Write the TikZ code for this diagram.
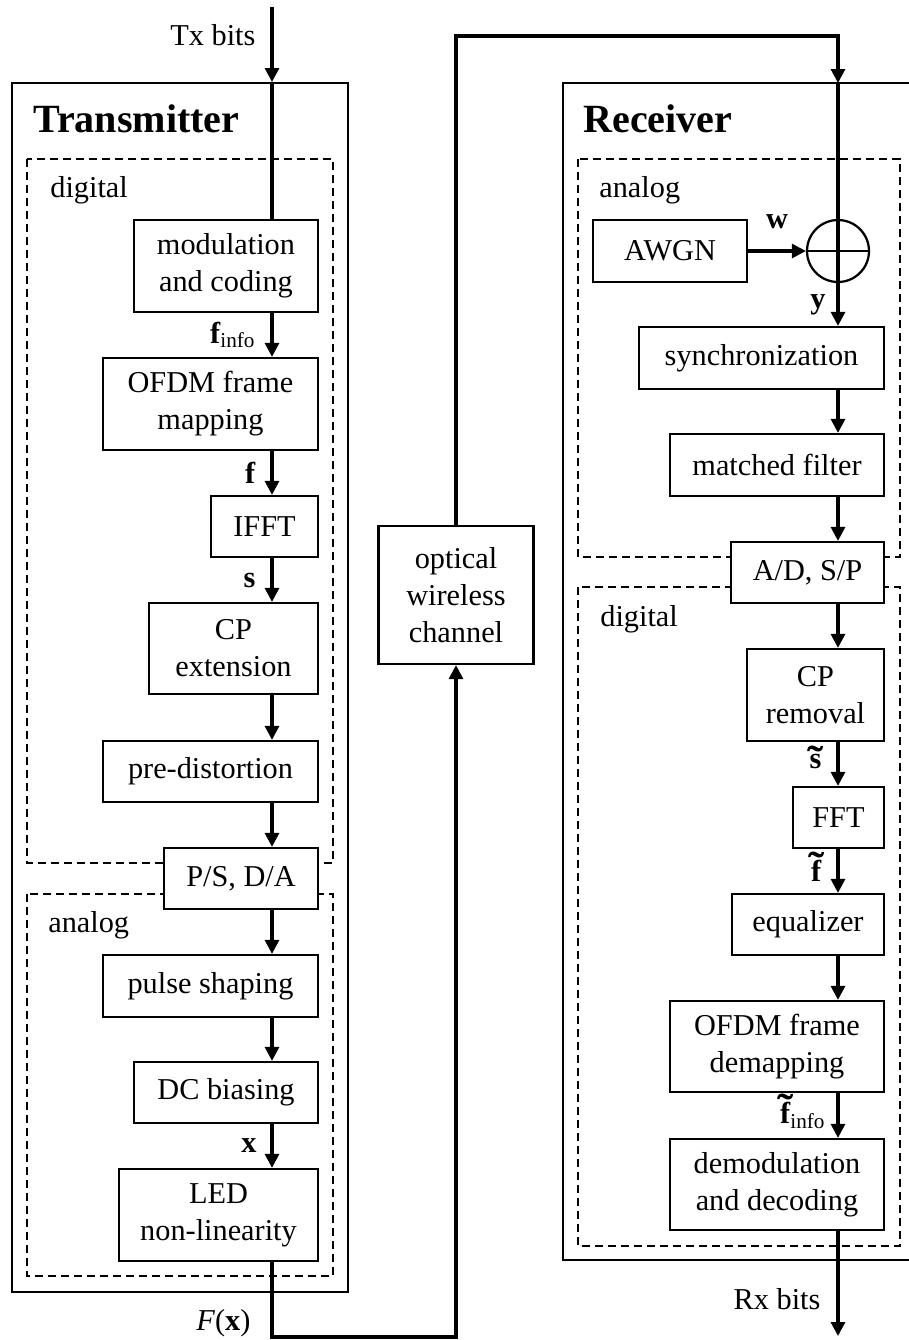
\documentclass[tikz,border=0pt]{standalone}
\usepackage{amsmath}
\usepackage{fontspec}
\setmainfont{Liberation Serif}
\usepackage{tikz}
\usetikzlibrary{arrows.meta, calc}
\newcommand{\blkfont}{\fontsize{17.25pt}{21pt}\selectfont}
% bold letter with a wide tilde on top
\newcommand{\tld}[2][0pt]{\ooalign{\textbf{#2}\cr\hidewidth\raisebox{#1}{\scalebox{1.6}[1.3]{\textbf{\char"02DC}}}\hidewidth\cr}}

\begin{document}
\begin{tikzpicture}[
  x=0.02cm, y=-0.02cm,
  blk/.style={rectangle, draw, line width=0.045cm, fill=white, inner sep=0pt,
              align=center, font=\blkfont},
  outer/.style={rectangle, draw, line width=0.045cm, inner sep=0pt},
  grp/.style={draw, line width=0.04cm, dash pattern=on 0.16cm off 0.1cm},
  sum/.style={circle, draw, line width=0.045cm, inner sep=0pt, minimum size=1.24cm},
  arr/.style={-{Triangle[length=0.28cm, width=0.28cm]}, line width=0.062cm},
  wire/.style={line width=0.062cm},
  lbl/.style={inner sep=0pt, font=\blkfont},
  head/.style={inner sep=0pt, anchor=base west, font=\fontsize{22.8pt}{27pt}\selectfont\bfseries},
  dom/.style={inner sep=0pt, anchor=base west, font=\blkfont}
]
  \useasboundingbox (0,0) rectangle (909,1340);
  % Signal spines
  \coordinate (txs) at (272,0);
  \coordinate (rxs) at (838,0);
  \coordinate (txin) at (272,7);
  \coordinate (rxout) at (838,1336);
  \coordinate (low) at (456,1337);
  \coordinate (high) at (456,36);

  % Transmitter frame
  \node[outer, minimum width=6.72cm, minimum height=24.18cm] (tx) at (180,687.5) {};
  \node[head] (txhead) at (33,132) {Transmitter};
  \draw[grp] (27,159) rectangle (333,863);
  \draw[grp] (27,894) rectangle (333,1276);
  \node[dom] (txdig) at (50,197) {digital};
  \node[dom] (txana) at (48,932) {analog};

  % Receiver frame (open to the right)
  \coordinate (rxtl) at (563,83);
  \coordinate (rxbl) at (563,1260);
  \draw[line width=0.045cm] (909,83) -- (rxtl) -- (rxbl) -- (909,1260);
  \node[head] (rxhead) at (583,132) {Receiver};
  \draw[grp] (578,159) rectangle (900,557);
  \draw[grp] (578,587) rectangle (900,1246);
  \node[dom] (rxana) at (599,197) {analog};
  \node[dom] (rxdig) at (600,626) {digital};

  % Transmitter blocks
  \node[blk, minimum width=3.68cm, minimum height=1.84cm] (mod) at (226,266) {modulation\\and coding};
  \node[blk, minimum width=4.30cm, minimum height=1.84cm] (ofdm) at (210.5,404) {OFDM frame\\mapping};
  \node[blk, minimum width=2.14cm, minimum height=1.22cm] (ifft) at (264.5,526.5) {IFFT};
  \node[blk, minimum width=3.38cm, minimum height=1.82cm] (cp) at (233.5,648.5) {CP\\extension};
  \node[blk, minimum width=4.30cm, minimum height=1.22cm] (pre) at (210.5,771.5) {pre-distortion};
  \node[blk, minimum width=3.08cm, minimum height=1.22cm] (ps) at (241,878.5) {P/S, D/A};
  \node[blk, minimum width=4.30cm, minimum height=1.24cm] (pulse) at (210.5,986) {pulse shaping};
  \node[blk, minimum width=3.68cm, minimum height=1.22cm] (dc) at (226,1092.5) {DC biasing};
  \node[blk, minimum width=3.98cm, minimum height=1.84cm] (led) at (218.5,1215) {LED\\non-linearity};

  % Channel
  \node[blk, minimum width=3.10cm, minimum height=2.76cm] (chan) at (456,595) {optical\\wireless\\channel};

  % Receiver blocks
  \node[blk, minimum width=3.08cm, minimum height=1.24cm] (awgn) at (670,251) {AWGN};
  \node[sum] (add) at (838,251) {};
  \node[blk, minimum width=4.90cm, minimum height=1.24cm] (sync) at (761.5,358) {synchronization};
  \node[blk, minimum width=4.28cm, minimum height=1.24cm] (mf) at (777,465) {matched filter};
  \node[blk, minimum width=3.06cm, minimum height=1.22cm] (ad) at (807.5,572.5) {A/D, S/P};
  \node[blk, minimum width=2.74cm, minimum height=1.84cm] (cpr) at (815.5,695) {CP\\removal};
  \node[blk, minimum width=1.82cm, minimum height=1.22cm] (fft) at (838.5,817.5) {FFT};
  \node[blk, minimum width=3.04cm, minimum height=1.22cm] (eq) at (808,924.5) {equalizer};
  \node[blk, minimum width=4.28cm, minimum height=1.82cm] (demap) at (777,1046.5) {OFDM frame\\demapping};
  \node[blk, minimum width=4.28cm, minimum height=1.82cm] (demod) at (777,1184.5) {demodulation\\and decoding};

  % Transmitter arrows
  \draw[arr] (txin) -- (txin |- tx.north) node[lbl, pos=0.37, left=0.3cm] (txbits) {Tx bits};
  \draw[wire] (txin |- tx.north) -- (mod.north -| txs);
  \draw[arr] (mod.south -| txs) -- (ofdm.north -| txs) node[lbl, midway, left=0.3cm] (finfo) {\textbf{f}$_{\text{info}}$};
  \draw[arr] (ofdm.south -| txs) -- (ifft.north -| txs) node[lbl, midway, left=0.3cm] (flab) {\textbf{f}};
  \draw[arr] (ifft.south -| txs) -- (cp.north -| txs) node[lbl, midway, left=0.3cm] (slab) {\textbf{s}};
  \foreach \a/\b in {cp/pre, pre/ps, ps/pulse, pulse/dc}
    \draw[arr] (\a.south -| txs) -- (\b.north -| txs);
  \draw[arr] (dc.south -| txs) -- (led.north -| txs) node[lbl, midway, left=0.28cm] (xlab) {\textbf{x}};

  % Through the channel
  \draw[arr] (led.south -| txs) -- (txs |- low) node[lbl, pos=0.82, left=0.4cm] (fx) {\textit{F}(\textbf{x})} -- (low) -- (chan.south);
  \draw[arr] (chan.north) -- (high) -| (rxs |- rxtl);
  \draw[wire] (rxs |- rxtl) -- (add.north);

  % Receiver arrows
  \draw[line width=0.045cm] (add.west) -- (add.east);
  \draw[wire] (add.north) -- (add.south);
  \draw[arr] (awgn.east) -- (add.west) node[lbl, midway, above=0.42cm] (wlab) {\textbf{w}};
  \draw[arr] (add.south) -- (sync.north -| rxs) node[lbl, midway, left=0.22cm] (ylab) {\textbf{y}};
  \foreach \a/\b in {sync/mf, mf/ad, ad/cpr, eq/demap}
    \draw[arr] (\a.south -| rxs) -- (\b.north -| rxs);
  \draw[arr] (cpr.south -| rxs) -- (fft.north -| rxs) node[lbl, midway, left=0.3cm] (stil) {\tld[-2.5pt]{s}};
  \draw[arr] (fft.south -| rxs) -- (eq.north -| rxs) node[lbl, midway, left=0.3cm] (ftil) {\tld[1.5pt]{f}};
  \draw[arr] (demap.south -| rxs) -- (demod.north -| rxs) node[lbl, midway, left=0.22cm] (ftinfo) {\tld[1.5pt]{f}$_{\text{info}}$};
  \draw[arr] (demod.south -| rxs) -- (rxout) node[lbl, pos=0.65, left=0.32cm] (rxbits) {Rx bits};
\end{tikzpicture}
\end{document}
